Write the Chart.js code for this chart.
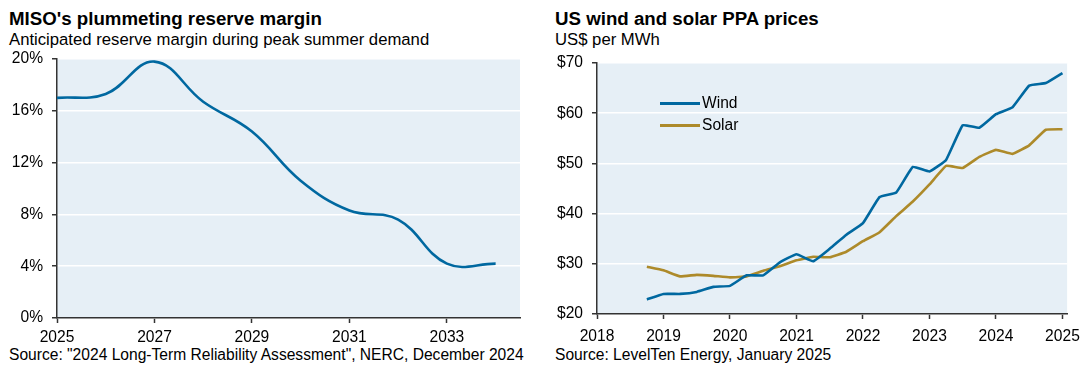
<!DOCTYPE html>
<html>
<head>
<meta charset="utf-8">
<script src="https://cdn.jsdelivr.net/npm/chart.js@4.4.1/dist/chart.umd.min.js"></script>
<style>
  body { margin: 0; width: 1088px; height: 367px; position: relative; overflow: hidden; background: #fff;
         font-family: "Liberation Sans", Arial, sans-serif; color: #000; }
  .title { position: absolute; top: 9px; font-weight: bold; font-size: 18.7px; line-height: 19px; white-space: nowrap; }
  .sub { position: absolute; top: 31px; font-size: 16.7px; line-height: 17px; white-space: nowrap; }
  .src { position: absolute; top: 347px; font-size: 15.6px; line-height: 16px; white-space: nowrap; }
  .box { position: absolute; top: 0; }
  #legend { position: absolute; left: 660px; top: 92px; font-size: 15.6px; }
  #legend div { height: 22px; line-height: 22px; white-space: nowrap; }
  #legend span.ln { display: inline-block; width: 40px; height: 3px; vertical-align: middle; margin-right: 2px; }
</style>
</head>
<body>
<div class="title" style="left:9px">MISO's plummeting reserve margin</div>
<div class="sub" style="left:9px">Anticipated reserve margin during peak summer demand</div>
<div class="title" style="left:555px">US wind and solar PPA prices</div>
<div class="sub" style="left:555px">US$ per MWh</div>
<div class="src" style="left:9px">Source: "2024 Long-Term Reliability Assessment", NERC, December 2024</div>
<div class="src" style="left:555px">Source: LevelTen Energy, January 2025</div>

<canvas id="miso" class="box" style="left:0" width="540" height="367"></canvas>
<canvas id="ppa" class="box" style="left:540px" width="548" height="367"></canvas>
<div id="legend"></div>

<script>
// MISO anticipated reserve margin (%)
const misoYears = [2025, 2026, 2027, 2028, 2029, 2030, 2031, 2032, 2033, 2034];
const misoMargin = [17.0, 17.3, 19.8, 16.7, 14.4, 10.6, 8.3, 7.6, 4.2, 4.2];
const misoTicks = [2025, 2027, 2029, 2031, 2033];

// PPA prices, US$ per MWh, quarterly
const ppaDates = [2018.75, 2019, 2019.25, 2019.5, 2019.75, 2020, 2020.25, 2020.5, 2020.75,
  2021, 2021.25, 2021.5, 2021.75, 2022, 2022.25, 2022.5, 2022.75,
  2023, 2023.25, 2023.5, 2023.75, 2024, 2024.25, 2024.5, 2024.75, 2025];
const windPrice = [22.9, 24.0, 24.0, 24.4, 25.4, 25.6, 27.7, 27.7, 30.3,
  31.9, 30.5, 33.0, 35.8, 38.1, 43.3, 44.2, 49.3,
  48.4, 50.7, 57.6, 57.1, 59.8, 61.2, 65.5, 66.0, 68.0];
const solarPrice = [29.4, 28.7, 27.5, 27.8, 27.6, 27.3, 27.5, 28.6, 29.5,
  30.7, 31.4, 31.3, 32.4, 34.5, 36.3, 39.5, 42.4,
  45.8, 49.5, 49.1, 51.3, 52.7, 51.9, 53.6, 56.7, 56.8];
const ppaTicks = [2018, 2019, 2020, 2021, 2022, 2023, 2024, 2025];
const seriesNames = ['Wind', 'Solar'];
const seriesColors = ['#0068a0', '#ad8a2a'];

const axisColor = '#333333';
const plotBg = '#e6eff6';
const tickFont = 15.6;

const plotBackground = {
  id: 'plotBackground',
  beforeDraw(chart) {
    const a = chart.chartArea;
    const ctx = chart.ctx;
    ctx.save();
    ctx.fillStyle = plotBg;
    ctx.fillRect(a.left, a.top, a.right - a.left, a.bottom - a.top);
    ctx.restore();
  }
};

function toPoints(xs, ys) {
  return xs.map((x, i) => ({ x: x, y: ys[i] }));
}

function xAxis(min, max, ticks, pad) {
  return {
    type: 'linear', min: min, max: max,
    afterBuildTicks: s => { s.ticks = ticks.map(v => ({ value: v })); },
    afterFit: s => { s.height = 30; },
    grid: { drawOnChartArea: false, tickLength: 5, tickColor: axisColor, tickWidth: 1.5 },
    border: { color: axisColor, width: 1.5 },
    ticks: { color: '#000', font: { size: tickFont }, padding: pad, maxRotation: 0, autoSkip: false,
      callback: v => String(v) }
  };
}

function yAxis(min, max, step, fmt) {
  return {
    min: min, max: max,
    afterFit: s => { s.width = 57; },
    grid: { color: '#ffffff', lineWidth: 1.5, tickLength: 5, tickColor: axisColor, tickWidth: 1.5 },
    border: { color: axisColor, width: 1.5 },
    ticks: { stepSize: step, color: '#000', font: { size: tickFont }, padding: 9, callback: fmt }
  };
}

Chart.defaults.font.family = '"Liberation Sans", Arial, sans-serif';
Chart.defaults.animation = false;

new Chart(document.getElementById('miso'), {
  type: 'line',
  data: {
    datasets: [{
      label: 'Reserve margin',
      data: toPoints(misoYears, misoMargin),
      borderColor: seriesColors[0],
      borderWidth: 2.6,
      tension: 0.4,
      pointRadius: 0
    }]
  },
  options: {
    responsive: false,
    devicePixelRatio: 1,
    layout: { padding: { left: 0, right: 20, top: 59, bottom: 19 } },
    plugins: { legend: { display: false }, tooltip: { enabled: false } },
    scales: {
      x: xAxis(2025, 2034.5, misoTicks, 5),
      y: yAxis(0, 20, 4, v => v + '%')
    }
  },
  plugins: [plotBackground]
});

const ppaSeries = [windPrice, solarPrice];
new Chart(document.getElementById('ppa'), {
  type: 'line',
  data: {
    datasets: ppaSeries.map((vals, i) => ({
      label: seriesNames[i],
      data: toPoints(ppaDates, vals),
      borderColor: seriesColors[i],
      borderWidth: 2.6,
      tension: 0.1,
      pointRadius: 0
    }))
  },
  options: {
    responsive: false,
    devicePixelRatio: 1,
    layout: { padding: { left: 0, right: 20, top: 63, bottom: 23 } },
    plugins: { legend: { display: false }, tooltip: { enabled: false } },
    scales: {
      x: xAxis(2018, 2025.07, ppaTicks, 8),
      y: yAxis(20, 70, 10, v => '$' + v)
    }
  },
  plugins: [plotBackground]
});

// legend built from the series names/colours
const legend = document.getElementById('legend');
seriesNames.forEach((name, i) => {
  const row = document.createElement('div');
  const ln = document.createElement('span');
  ln.className = 'ln';
  ln.style.background = seriesColors[i];
  row.appendChild(ln);
  row.appendChild(document.createTextNode(name));
  legend.appendChild(row);
});
</script>
</body>
</html>
